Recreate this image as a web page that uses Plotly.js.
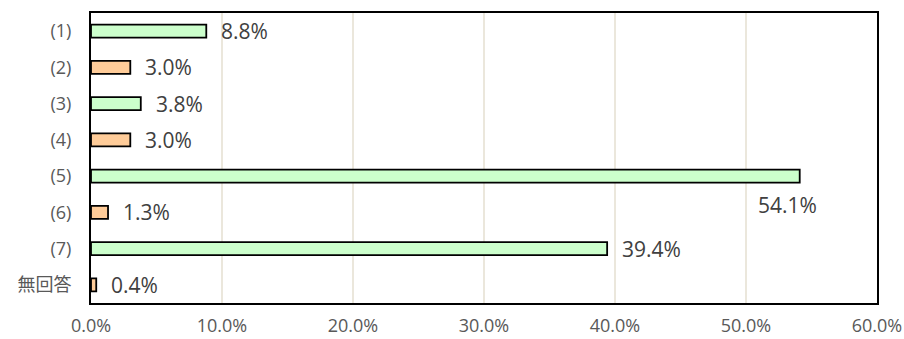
<!DOCTYPE html>
<html>
<head>
<meta charset="utf-8">
<script src="https://cdn.plot.ly/plotly-3.0.1.min.js"></script>
<style>html,body{margin:0;padding:0;background:#fff;}#chart{width:904px;height:339px;}</style>
</head>
<body>
<div id="chart"></div>
<script>
const categories = ["(1)", "(2)", "(3)", "(4)", "(5)", "(6)", "(7)", "無回答"];
const values = [8.8, 3.0, 3.8, 3.0, 54.1, 1.3, 39.4, 0.4];
const barColors = ["#ccffcc", "#ffcc99", "#ccffcc", "#ffcc99", "#ccffcc", "#ffcc99", "#ccffcc", "#ffcc99"];
const labels = ["8.8%", "3.0%", "3.8%", "3.0%", "54.1%", "1.3%", "39.4%", "0.4%"];
const xTicks = [0, 10, 20, 30, 40, 50, 60];
const xTickText = ["0.0%", "10.0%", "20.0%", "30.0%", "40.0%", "50.0%", "60.0%"];

const FONT = "'Open Sans', 'Noto Sans CJK JP', sans-serif";

const annotations = categories.map((c, i) => {
  const below = values[i] > 50;
  return {
    x: values[i], y: c, xref: 'x', yref: 'y',
    text: labels[i], showarrow: false,
    xanchor: below ? 'center' : 'left',
    xshift: below ? -12 : 13,
    yshift: below ? -29 : 0,
    font: {family: FONT, size: 21, color: '#404040'}
  };
});

const trace = {
  type: 'bar', orientation: 'h',
  x: values, y: categories,
  marker: {color: barColors, line: {color: '#000000', width: 1.8}},
  width: 0.36,
  hoverinfo: 'none'
};

const layout = {
  width: 904, height: 339,
  margin: {l: 91, r: 27, t: 13, b: 36},
  paper_bgcolor: '#ffffff', plot_bgcolor: '#ffffff',
  showlegend: false,
  font: {family: FONT, color: '#595959'},
  xaxis: {
    range: [0, 60], tickvals: xTicks, ticktext: xTickText,
    showgrid: true, gridcolor: '#ebe7dc', gridwidth: 1.5,
    zeroline: false, showline: true, mirror: true, linecolor: '#000000', linewidth: 2,
    ticks: 'outside', ticklen: 5, tickcolor: 'rgba(0,0,0,0)',
    tickfont: {family: FONT, size: 18, color: '#595959'},
    fixedrange: true
  },
  yaxis: {
    autorange: 'reversed', type: 'category',
    showgrid: false, zeroline: false,
    showline: true, mirror: true, linecolor: '#000000', linewidth: 2,
    ticks: 'outside', ticklen: 14, tickcolor: 'rgba(0,0,0,0)',
    tickfont: {family: FONT, size: 18, color: '#595959'},
    fixedrange: true
  },
  annotations: annotations
};

Plotly.newPlot('chart', [trace], layout, {staticPlot: true, displayModeBar: false});
</script>
</body>
</html>
